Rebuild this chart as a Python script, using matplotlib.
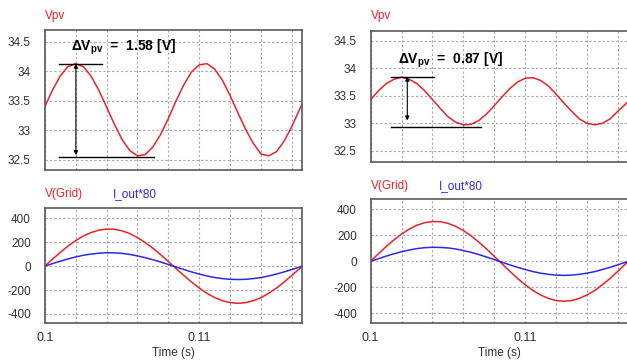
import matplotlib
matplotlib.use("Agg")
import matplotlib.pyplot as plt

plt.rcParams['font.family'] = ['Liberation Sans', 'DejaVu Sans']
plt.rcParams['mathtext.fontset'] = 'custom'
plt.rcParams['mathtext.rm'] = 'Liberation Sans'
plt.rcParams['mathtext.bf'] = 'Liberation Sans:bold'
plt.rcParams['axes.unicode_minus'] = False

# time samples (s), every 0.5 ms over one grid cycle
time_s = [0.1000, 0.1005, 0.1010, 0.1015, 0.1020, 0.1025, 0.1030, 0.1035,
          0.1040, 0.1045, 0.1050, 0.1055, 0.1060, 0.1065, 0.1070, 0.1075,
          0.1080, 0.1085, 0.1090, 0.1095, 0.1100, 0.1105, 0.1110, 0.1115,
          0.1120, 0.1125, 0.1130, 0.1135, 0.1140, 0.1145, 0.1150, 0.1155,
          0.1160, 0.1165, 0.11667]

# left case: PV voltage ripple 1.58 V
vpv_left = [33.40, 33.68, 33.92, 34.08, 34.13, 34.08, 33.92, 33.68,
            33.40, 33.11, 32.85, 32.66, 32.57, 32.59, 32.72, 32.93,
            33.20, 33.50, 33.77, 33.99, 34.11, 34.13, 34.04, 33.85,
            33.59, 33.30, 33.02, 32.78, 32.60, 32.57, 32.64, 32.82,
            33.07, 33.36, 33.45]
vgrid_left = [0, 58, 114, 167, 213, 252, 281, 301, 310, 309, 296, 273,
              240, 198, 150, 96, 39, -20, -77, -132, -183, -227, -263, -289,
              -305, -311, -305, -289, -263, -227, -183, -132, -77, -20, 0]
iout_left = [0, 21, 41, 60, 77, 91, 101, 108, 112, 111, 107, 98,
             86, 71, 54, 35, 14, -7, -28, -48, -66, -82, -95, -104,
             -110, -112, -110, -104, -95, -82, -66, -48, -28, -7, 0]

# right case: PV voltage ripple 0.87 V
vpv_right = [33.43, 33.59, 33.72, 33.80, 33.84, 33.80, 33.72, 33.59,
             33.43, 33.27, 33.12, 33.02, 32.97, 32.98, 33.05, 33.17,
             33.32, 33.48, 33.63, 33.75, 33.82, 33.83, 33.78, 33.68,
             33.53, 33.37, 33.22, 33.08, 33.00, 32.97, 33.00, 33.08,
             33.22, 33.35, 33.40]
vgrid_right = [0, 58, 113, 164, 210, 248, 278, 297, 306, 305, 292, 269,
               237, 196, 148, 95, 38, -19, -76, -131, -180, -224, -259, -285,
               -302, -307, -302, -285, -259, -224, -180, -131, -76, -19, 0]
iout_right = [0, 20, 40, 58, 74, 87, 98, 105, 108, 107, 103, 95,
              83, 69, 52, 33, 14, -7, -27, -46, -63, -79, -91, -100,
              -106, -108, -106, -100, -91, -79, -63, -46, -27, -7, 0]

vpv_ticks = [32.5, 33, 33.5, 34, 34.5]
vpv_ticklabels = ['32.5', '33', '33.5', '34', '34.5']
grid_ticks = [-400, -200, 0, 200, 400]
time_ticks = [0.1, 0.11]
time_ticklabels = ['0.1', '0.11']
time_grid = [0.102, 0.104, 0.106, 0.108, 0.110, 0.112, 0.114, 0.116]

RED = '#e8232b'
BLUE = '#2b2be3'
SPINE = '#5a5a5a'
TXT = '#333333'


def style_axes(ax, ylim, yticks, ylabels=None):
    ax.set_xlim(0.1, 0.11667)
    ax.set_ylim(*ylim)
    ax.set_yticks(yticks)
    if ylabels is not None:
        ax.set_yticklabels(ylabels)
    ax.set_xticks(time_ticks)
    ax.set_xticks(time_grid, minor=True)
    ax.tick_params(axis='both', which='both', length=0,
                   labelsize=8.5, labelcolor=TXT)
    ax.tick_params(axis='y', pad=10)
    ax.tick_params(axis='x', pad=7, labelsize=9)
    ax.grid(True, which='both', axis='x', color='#a8a8a8',
            linestyle=(0, (2, 2)), linewidth=0.8)
    ax.grid(True, which='major', axis='y', color='#a8a8a8',
            linestyle=(0, (2, 2)), linewidth=0.8)
    for s in ax.spines.values():
        s.set_color(SPINE)
        s.set_linewidth(1.2)


def draw_ripple_marker(ax, x_top, x_bot, x_arrow, top, bot, arrow_end, txt_xy, txt):
    ax.plot(x_top, [top, top], color='black', lw=1.0)
    ax.plot(x_bot, [bot, bot], color='black', lw=1.0)
    ax.annotate('', xy=(x_arrow, arrow_end), xytext=(x_arrow, top),
                arrowprops=dict(arrowstyle='<|-|>', color='black', lw=0.8,
                                mutation_scale=6, shrinkA=0, shrinkB=0))
    ax.text(txt_xy[0], txt_xy[1], txt, fontsize=10, fontweight='bold',
            color='black', va='center', ha='left')


fig = plt.figure(figsize=(6.27, 3.61), dpi=100)

# left column
ax1 = fig.add_axes([0.0713, 0.5291, 0.4108, 0.3878])
ax1.plot(time_s, vpv_left, color=RED, lw=1.1)
style_axes(ax1, (32.33, 34.70), vpv_ticks, vpv_ticklabels)
ax1.set_xticklabels([])
draw_ripple_marker(ax1, [0.1009, 0.10368], [0.1009, 0.10707], 0.10202,
                   34.13, 32.545, 32.58, (0.1017, 34.40),
                   r'ΔV$_{\mathbf{pv}}$  =  1.58 [V]')
ax1.text(0.0, 1.06, 'Vpv', transform=ax1.transAxes, color=RED,
         fontsize=8.5, va='bottom', ha='left')

ax2 = fig.add_axes([0.0713, 0.1061, 0.4108, 0.3169])
ax2.plot(time_s, vgrid_left, color=RED, lw=1.1)
ax2.plot(time_s, iout_left, color=BLUE, lw=1.1)
style_axes(ax2, (-473, 484), grid_ticks)
ax2.set_xticklabels(time_ticklabels)
ax2.set_xlabel('Time (s)', fontsize=8.5, color=TXT, labelpad=2)
ax2.text(0.0, 1.07, 'V(Grid)', transform=ax2.transAxes, color=RED,
         fontsize=8.5, va='bottom', ha='left')
ax2.text(0.265, 1.07, 'I_out*80', transform=ax2.transAxes, color=BLUE,
         fontsize=8.5, va='bottom', ha='left')

# right column
ax3 = fig.add_axes([0.5912, 0.5521, 0.4108, 0.3620])
ax3.plot(time_s, vpv_right, color=RED, lw=1.1)
style_axes(ax3, (32.30, 34.68), vpv_ticks, vpv_ticklabels)
ax3.set_xticklabels([])
draw_ripple_marker(ax3, [0.10131, 0.10409], [0.10131, 0.10713], 0.10237,
                   33.85, 32.93, 33.05, (0.10179, 34.14),
                   r'ΔV$_{\mathbf{pv}}$  =  0.87 [V]')
ax3.text(0.0, 1.07, 'Vpv', transform=ax3.transAxes, color=RED,
         fontsize=8.5, va='bottom', ha='left')

ax4 = fig.add_axes([0.5912, 0.1061, 0.4108, 0.3418])
ax4.plot(time_s, vgrid_right, color=RED, lw=1.1)
ax4.plot(time_s, iout_right, color=BLUE, lw=1.1)
style_axes(ax4, (-472, 477), grid_ticks)
ax4.set_xticklabels(time_ticklabels)
ax4.set_xlabel('Time (s)', fontsize=8.5, color=TXT, labelpad=2)
ax4.text(0.0, 1.06, 'V(Grid)', transform=ax4.transAxes, color=RED,
         fontsize=8.5, va='bottom', ha='left')
ax4.text(0.265, 1.06, 'I_out*80', transform=ax4.transAxes, color=BLUE,
         fontsize=8.5, va='bottom', ha='left')

fig.savefig('out.png', dpi=100)
